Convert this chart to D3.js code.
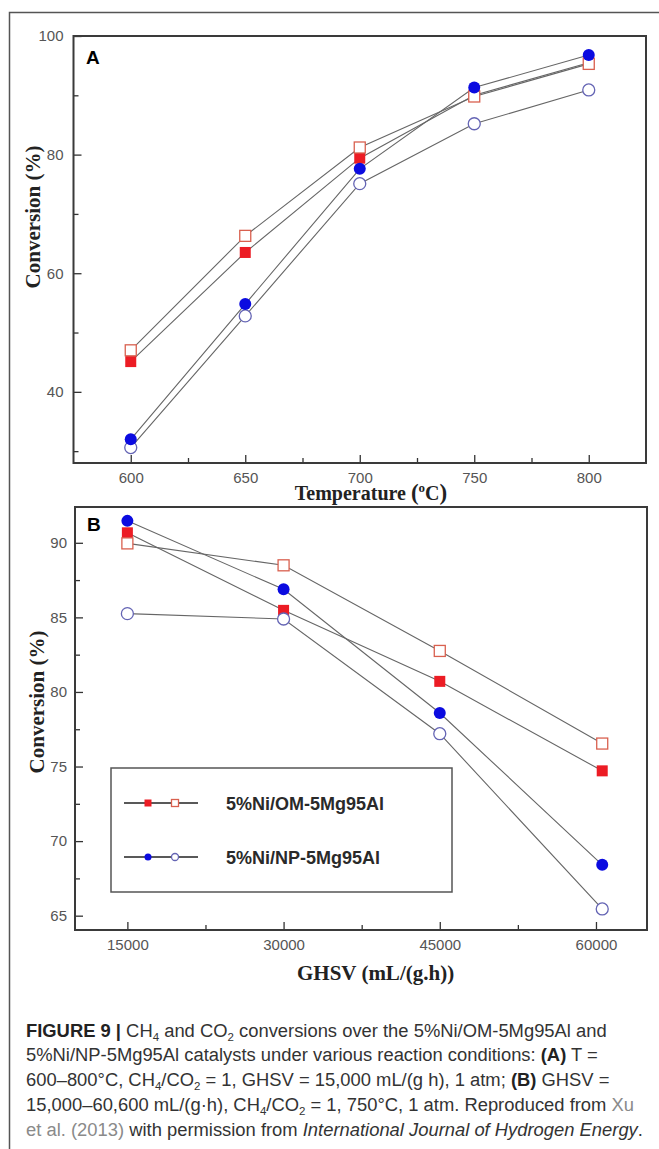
<!DOCTYPE html>
<html>
<head>
<meta charset="utf-8">
<script src="https://cdn.jsdelivr.net/npm/d3@7"></script>
<style>
  body { margin: 0; background: #fff; }
  svg { display: block; }
</style>
</head>
<body>
<div id="chart"></div>
<script>
// panel A: conversion vs temperature
const tempA = [600, 650, 700, 750, 800]
const omFilledA = [45.1, 63.5, 79.4, 90.0, 95.5]
const omOpenA = [47.0, 66.3, 81.2, 89.8, 95.3]
const npFilledA = [32.0, 54.8, 77.6, 91.3, 96.8]
const npOpenA = [30.6, 52.8, 75.1, 85.2, 90.9]

// panel B: conversion vs GHSV
const ghsvB = [15000, 30000, 45000, 60600]
const omFilledB = [90.67, 85.47, 80.71, 74.71]
const omOpenB = [89.96, 88.49, 82.75, 76.54]
const npFilledB = [91.47, 86.88, 78.59, 68.41]
const npOpenB = [85.25, 84.89, 77.2, 65.45]

const xTicksA = [600, 650, 700, 750, 800]
const xMinorA = [625, 675, 725, 775]
const yTicksA = [40, 60, 80, 100]
const yMinorA = [30, 50, 70, 90]
const xTicksB = [15000, 30000, 45000, 60000]
const xMinorB = [22500, 37500, 52500]
const yTicksB = [65, 70, 75, 80, 85, 90]
const yMinorB = [67.5, 72.5, 77.5, 82.5, 87.5]

const legendLabels = ["5%Ni/OM-5Mg95Al", "5%Ni/NP-5Mg95Al"]

const W = 659, H = 1149
const RED = "#ec1c24", RED_OPEN = "#d9604f", BLUE = "#0b0be0", BLUE_OPEN = "#6464b4"
const sans = "Liberation Sans, Arial, sans-serif"
const serif = "Liberation Serif, Times New Roman, serif"

const svg = d3.select("#chart").append("svg")
  .attr("width", W)
  .attr("height", H)

svg.append("rect").attr("width", W).attr("height", H).attr("fill", "#fff")

// outer figure frame (top + left)
svg.append("path")
  .attr("d", `M${W},12.5H9.5V${H}`)
  .attr("fill", "none")
  .attr("stroke", "#555")
  .attr("stroke-width", 1.5)

function drawMarker(g, shape, filled, color, cx, cy, size) {
  if (shape === "square") {
    g.append("rect")
      .attr("x", cx - size / 2).attr("y", cy - size / 2)
      .attr("width", size).attr("height", size)
      .attr("fill", filled ? color : "#fff")
      .attr("stroke", color)
      .attr("stroke-width", filled ? 0 : 1.3)
  } else {
    g.append("circle")
      .attr("cx", cx).attr("cy", cy).attr("r", size / 2)
      .attr("fill", filled ? color : "#fff")
      .attr("stroke", color)
      .attr("stroke-width", filled ? 0 : 1.3)
  }
}

function panel(opt) {
  const b = opt.box
  const x = d3.scaleLinear().domain(opt.xDomain).range([b.left, b.right])
  const y = d3.scaleLinear().domain(opt.yDomain).range([b.bottom, b.top])
  const g = svg.append("g")

  g.append("g")
    .attr("transform", "translate(0," + b.bottom + ")")
    .call(d3.axisBottom(x).tickValues(opt.xTicks).tickSize(-8).tickSizeOuter(0)
      .tickPadding(opt.xPad).tickFormat(d3.format("d")))
  g.append("g")
    .attr("transform", "translate(0," + b.bottom + ")")
    .call(d3.axisBottom(x).tickValues(opt.xMinor).tickSize(-5).tickSizeOuter(0).tickFormat(""))

  g.append("g")
    .attr("transform", "translate(" + b.left + ",0)")
    .call(d3.axisLeft(y).tickValues(opt.yTicks).tickSize(-8).tickSizeOuter(0)
      .tickPadding(opt.yPad).tickFormat(d3.format("d")))
  g.append("g")
    .attr("transform", "translate(" + b.left + ",0)")
    .call(d3.axisLeft(y).tickValues(opt.yMinor).tickSize(-5).tickSizeOuter(0).tickFormat(""))

  g.selectAll(".domain").remove()
  g.selectAll(".tick line").attr("stroke", "#333").attr("stroke-width", 1.3)
  g.selectAll(".tick text")
    .attr("fill", "#555")
    .style("font-family", sans)
    .style("font-size", "15px")

  g.append("rect")
    .attr("x", b.left).attr("y", b.top)
    .attr("width", b.right - b.left).attr("height", b.bottom - b.top)
    .attr("fill", "none")
    .attr("stroke", "#3a3a3a")
    .attr("stroke-width", 2)

  const line = d3.line().x(d => x(d[0])).y(d => y(d[1]))
  opt.series.forEach(s => {
    g.append("path")
      .attr("d", line(d3.zip(opt.xs, s.values)))
      .attr("fill", "none")
      .attr("stroke", "#666")
      .attr("stroke-width", 1.1)
  })
  opt.series.forEach(s => {
    s.values.forEach((v, i) => {
      drawMarker(g, s.shape, s.filled, s.color, x(opt.xs[i]), y(v), s.shape === "square" ? 11 : 12)
    })
  })

  g.append("text")
    .attr("x", opt.letter[0]).attr("y", opt.letter[1])
    .style("font-family", sans).style("font-weight", "bold").style("font-size", "19px")
    .text(opt.name)

  g.append("text")
    .attr("transform", "translate(" + opt.yTitle[0] + "," + opt.yTitle[1] + ") rotate(-90)")
    .attr("text-anchor", "middle")
    .style("font-family", serif).style("font-weight", "bold").style("font-size", "21px")
    .attr("fill", "#222")
    .text("Conversion (%)")

  return { x, y, g }
}

const A = panel({
  name: "A",
  box: { left: 73.5, right: 646, top: 36, bottom: 463 },
  xDomain: [575, 825], yDomain: [28, 100],
  xTicks: xTicksA, xMinor: xMinorA, yTicks: yTicksA, yMinor: yMinorA,
  xPad: 9, yPad: 10,
  xs: tempA,
  series: [
    { values: omFilledA, shape: "square", filled: true, color: RED },
    { values: omOpenA, shape: "square", filled: false, color: RED_OPEN },
    { values: npOpenA, shape: "circle", filled: false, color: BLUE_OPEN },
    { values: npFilledA, shape: "circle", filled: true, color: BLUE }
  ],
  letter: [86, 64],
  yTitle: [40, 217]
})

const tA = A.g.append("text")
  .attr("x", 371).attr("y", 500)
  .attr("text-anchor", "middle")
  .style("font-family", serif).style("font-weight", "bold").style("font-size", "20px")
  .attr("fill", "#222")
tA.append("tspan").text("Temperature ")
tA.append("tspan").style("font-size", "23px").text("(")
tA.append("tspan").attr("dy", -8).style("font-size", "13px").text("o")
tA.append("tspan").attr("dy", 8).text("C")
tA.append("tspan").style("font-size", "23px").text(")")

const B = panel({
  name: "B",
  box: { left: 75, right: 647, top: 507, bottom: 930 },
  xDomain: [9970, 64900], yDomain: [64.04, 92.4],
  xTicks: xTicksB, xMinor: xMinorB, yTicks: yTicksB, yMinor: yMinorB,
  xPad: 9, yPad: 8,
  xs: ghsvB,
  series: [
    { values: omFilledB, shape: "square", filled: true, color: RED },
    { values: omOpenB, shape: "square", filled: false, color: RED_OPEN },
    { values: npOpenB, shape: "circle", filled: false, color: BLUE_OPEN },
    { values: npFilledB, shape: "circle", filled: true, color: BLUE }
  ],
  letter: [87, 531],
  yTitle: [44, 702]
})

B.g.append("text")
  .attr("x", 297).attr("y", 980)
  .style("font-family", serif).style("font-weight", "bold").style("font-size", "21px")
  .attr("fill", "#222")
  .text("GHSV (mL/(g.h))")

// legend
const lg = B.g.append("g")
lg.append("rect")
  .attr("x", 111).attr("y", 768).attr("width", 341).attr("height", 124)
  .attr("fill", "#fff").attr("stroke", "#555").attr("stroke-width", 1.5)
const legendMarks = [
  { shape: "square", c1: RED, c2: RED_OPEN },
  { shape: "circle", c1: BLUE, c2: BLUE_OPEN }
]
legendLabels.forEach((lab, i) => {
  const ly = 803 + i * 54
  lg.append("line").attr("x1", 124).attr("x2", 198).attr("y1", ly).attr("y2", ly)
    .attr("stroke", "#222").attr("stroke-width", 1.5)
  drawMarker(lg, legendMarks[i].shape, true, legendMarks[i].c1, 148, ly, 7)
  drawMarker(lg, legendMarks[i].shape, false, legendMarks[i].c2, 175, ly, 7)
  lg.append("text")
    .attr("x", 226).attr("y", ly + 6.5)
    .style("font-family", sans).style("font-weight", "bold").style("font-size", "18px")
    .attr("fill", "#2a2a2a")
    .text(lab)
})

// caption
const captionLines = [
  [["FIGURE 9 |", "b"], [" CH"], ["4", "sub"], [" and CO"], ["2", "sub"], [" conversions over the 5%Ni/OM-5Mg95Al and"]],
  [["5%Ni/NP-5Mg95Al catalysts under various reaction conditions: "], ["(A)", "b"], [" T ="]],
  [["600–800°C, CH"], ["4", "sub"], ["/CO"], ["2", "sub"], [" = 1, GHSV = 15,000 mL/(g h), 1 atm; "], ["(B)", "b"], [" GHSV ="]],
  [["15,000–60,600 mL/(g·h), CH"], ["4", "sub"], ["/CO"], ["2", "sub"], [" = 1, 750°C, 1 atm. Reproduced from "], ["Xu", "link"]],
  [["et al. (2013)", "link"], [" with permission from "], ["International Journal of Hydrogen Energy", "i"], ["."]]
]

const capFont = 16.5
const cap = svg.append("g")
  .style("font-family", sans)
  .style("font-size", capFont + "px")
  .attr("fill", "#333")
const capNodes = captionLines.map((segs, i) => {
  const t = cap.append("text").attr("x", 26).attr("y", 1036.5 + i * 24.8)
  segs.forEach(([txt, kind]) => {
    const ts = t.append("tspan").text(txt)
    if (kind === "b") ts.style("font-weight", "bold").attr("fill", "#222")
    if (kind === "i") ts.style("font-style", "italic")
    if (kind === "link") ts.attr("fill", "#8a8a8a")
    if (kind === "sub") ts.attr("dy", 4).style("font-size", "11.5px")
  })
  // undo subscript offsets on following tspans
  t.selectAll("tspan").each(function (d, j, nodes) {
    if (j > 0 && nodes[j - 1].style.fontSize === "11.5px" && this.style.fontSize !== "11.5px") {
      d3.select(this).attr("dy", -4)
    }
  })
  return t
})
// fit longest line to the reference width
const len = capNodes[3].node().getComputedTextLength()
const fit = capFont * 610 / len
cap.style("font-size", fit + "px")
</script>
</body>
</html>
